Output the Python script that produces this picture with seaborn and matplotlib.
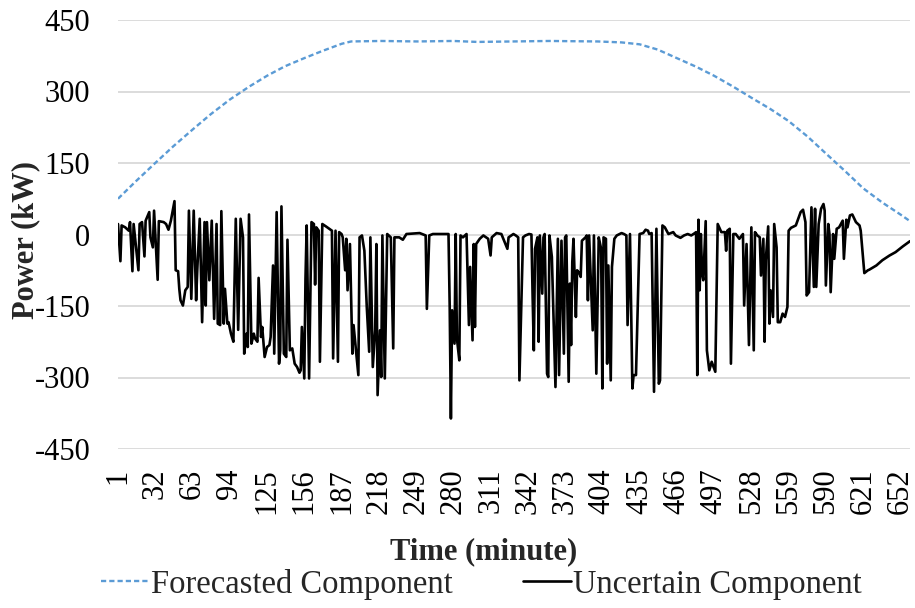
import matplotlib
matplotlib.use("Agg")
import matplotlib.pyplot as plt
import seaborn as sns
import pandas as pd

# ---------------- data ----------------
forecast_minutes = [1, 16, 32, 47, 63, 78, 94, 110, 125, 140, 156, 171, 187, 195, 220, 250,
                    280, 300, 330, 360, 400, 420, 435, 450, 466, 482, 497, 513, 528, 544,
                    559, 575, 590, 606, 621, 637, 652, 660]
forecast_kw = [75, 112, 150, 185, 220, 252, 283, 310, 333, 353, 370, 385, 400, 405, 406, 405,
               406, 404, 405, 406, 405, 403, 399, 388, 370, 352, 333, 310, 287, 263,
               238, 205, 170, 133, 97, 67, 42, 28]

uncertain_minutes = [
    1, 3, 4, 7, 10, 11, 13, 14, 18, 19, 21, 23, 24, 27, 28, 30, 31, 34, 35, 39, 41, 43, 45, 48,
    49, 51, 52, 53, 55, 57, 59, 60, 62, 64, 66, 67, 69, 71, 73, 74, 75, 77, 79, 81, 83, 84, 86,
    87, 89, 90, 92, 93, 95, 97, 99, 101, 103, 105, 106, 108, 109, 110, 112, 114, 115, 117, 118,
    120, 121, 123, 125, 127, 128, 130, 131, 133, 135, 136, 137, 139, 141, 142, 144, 146, 148,
    150, 152, 153, 154, 156, 157, 158, 160, 162, 164, 165, 166, 168, 169, 171, 174, 179, 180,
    182, 184, 185, 187, 188, 190, 191, 192, 194, 196, 197, 199, 201, 202, 204, 206, 208, 210,
    211, 213, 215, 216, 217, 219, 220, 221, 223, 225, 228, 230, 231, 235, 238, 241, 252, 255,
    257, 258, 260, 263, 276, 277, 278, 279, 281, 282, 283, 285, 286, 288, 291, 293, 294, 296,
    297, 298, 299, 302, 305, 309, 311, 312, 316, 320, 325, 326, 330, 332, 334, 335, 338, 340,
    343, 345, 346, 347, 348, 350, 351, 352, 354, 355, 356, 358, 359, 360, 362, 364, 365, 367,
    368, 370, 372, 373, 374, 376, 377, 378, 379, 380, 382, 383, 385, 386, 387, 390, 391, 392,
    393, 396, 397, 399, 401, 403, 404, 405, 407, 408, 409, 411, 412, 414, 416, 420, 422, 424,
    425, 427, 429, 430, 432, 435, 438, 440, 442, 443, 445, 447, 449, 451, 452, 454, 456, 459,
    463, 465, 469, 472, 475, 478, 481, 482, 483, 484, 485, 486, 487, 488, 490, 491, 493, 495,
    496, 498, 500, 503, 506, 507, 508, 510, 511, 513, 515, 518, 521, 522, 524, 526, 528, 530,
    531, 533, 535, 536, 538, 539, 540, 542, 543, 544, 546, 547, 549, 550, 552, 554, 556, 558,
    559, 561, 565, 567, 569, 571, 573, 574, 576, 578, 580, 581, 582, 584, 586, 588, 589, 590,
    592, 593, 594, 596, 597, 599, 601, 604, 605, 607, 608, 610, 612, 615, 618, 619, 622, 625,
    626, 632, 637, 643, 648, 654, 660]
uncertain_kw = [
    22, -56, 19, 15, 8, 26, -77, 22, -75, 22, 26, -46, 29, 47, -6, -27, 50, -95, 28, 26, 22, 10,
    29, 70, -75, -77, -114, -138, -149, -117, -110, 50, -135, 50, -138, -72, 33, -184, 26, -149,
    26, -96, 29, -177, 22, -187, -190, 49, -187, -114, -187, -184, -208, -225, 33, -200, 33, -6,
    -250, -208, -236, 42, -229, -208, -218, -225, -91, -215, -194, -257, -236, -232, -215, -65,
    -250, 47, -271, -243, 59, -250, -257, -11, -243, -239, -271, -278, -290, -285, -194, -302,
    -93, 19, -302, 26, 22, -105, 15, 8, -267, 22, 17, 8, -260, 8, -267, 5, 1, -6, -75, -9, -117,
    -20, -250, -190, -243, -295, -6, -2, -34, -152, -246, -6, -278, -201, -20, -337, -201, -299,
    -2, -302, 1, -6, -239, -6, -6, -11, 1, 3, 0, -2, -156, -2, 1, 1, -152, -386, -159, -229, 1,
    -218, -264, -2, -6, 1, -190, -68, -222, -20, -194, -20, -9, -2, -9, -44, -6, 3, 1, -30, -6,
    1, -2, -6, -306, -6, -2, 1, 0, -131, -243, -30, -6, -225, -2, -124, -6, 1, -292, -299, -2,
    -47, -229, -320, -9, -295, -13, -250, -6, -2, -309, -103, -232, -58, -9, -173, -75, -82, -89,
    -13, -6, -2, -138, -2, -201, -2, -292, -6, -30, -323, -6, -9, -271, -65, -306, -68, -9, -2,
    3, 1, -2, -190, 1, -323, -295, -295, 1, 3, 10, 8, 1, 3, -330, 12, -313, -306, 19, 15, 1, 5,
    -2, -7, -2, 1, -2, 3, 5, -295, 31, -117, 1, -82, -96, 28, -243, -285, -267, -274, -288, 22,
    5, 5, -34, 8, 12, -271, 1, 1, -9, 1, -149, -20, -232, 15, -243, 5, -2, -6, -86, -9, -225,
    -54, 17, -187, -117, -173, 22, -27, -184, -184, -166, -173, -152, 8, 14, 19, 33, 47, 52, 26,
    -128, -121, 57, -110, 54, -110, 22, 54, 64, 50, -107, 22, 1, -121, 1, -51, 12, 15, 29, -51,
    31, 15, 40, 42, 26, 19, 8, -81, -75, -74, -65, -54, -44, -37, -25, -14]

tick_minutes = list(range(1, 653, 31))
tick_labels = [str(t) for t in tick_minutes]
y_ticks = [-450, -300, -150, 0, 150, 300, 450]

# ---------------- style ----------------
sns.set_theme(style="white")
plt.rcParams['font.family'] = ['Liberation Serif', 'DejaVu Serif']

fig = plt.figure(figsize=(9.15, 6.08), dpi=100)
ax = fig.add_axes([118 / 915, 1 - 449 / 608, (910 - 118) / 915, (449 - 20) / 608])

df_f = pd.DataFrame({"minute": forecast_minutes, "kw": forecast_kw})
df_u = pd.DataFrame({"minute": uncertain_minutes, "kw": uncertain_kw})

sns.lineplot(data=df_f, x="minute", y="kw", ax=ax, color="#5B9BD5", linewidth=1.7,
             linestyle=(0, (2.2, 1.3)), errorbar=None, label="Forecasted Component")
sns.lineplot(data=df_u, x="minute", y="kw", ax=ax, color="black", linewidth=1.9,
             errorbar=None, label="Uncertain Component")

ax.set_xlim(1, 660)
ax.set_ylim(-450, 450)
ax.set_yticks(y_ticks)
ax.set_yticklabels([str(v) for v in y_ticks])
ax.set_xticks(tick_minutes)
ax.set_xticklabels(tick_labels, rotation=90)
ax.tick_params(axis='both', length=0, labelsize=22, colors='black')
ax.tick_params(axis='y', pad=20)
ax.tick_params(axis='x', pad=14)
ax.yaxis.grid(True, color="#D9D9D9", linewidth=1.3)
ax.xaxis.grid(False)
for s in ax.spines.values():
    s.set_visible(False)
ax.set_xlabel("")
ax.set_ylabel("")

fig.text(484 / 915, 1 - 552 / 608, "Time (minute)", ha="center", va="center",
         fontsize=22, fontweight="bold")
fig.text(26 / 915, 1 - 240 / 608, "Power (kW)", ha="center", va="center",
         fontsize=22, fontweight="bold", rotation=90)

handles, labels = ax.get_legend_handles_labels()
if ax.get_legend() is not None:
    ax.get_legend().remove()
fig.legend(handles, labels, loc="center", bbox_to_anchor=(481 / 915, 1 - 584 / 608), ncol=2,
           frameon=False, fontsize=23.5, handlelength=1.47, handletextpad=0.06,
           columnspacing=2.15, borderpad=0, borderaxespad=0)

fig.savefig("out.png", dpi=100)
